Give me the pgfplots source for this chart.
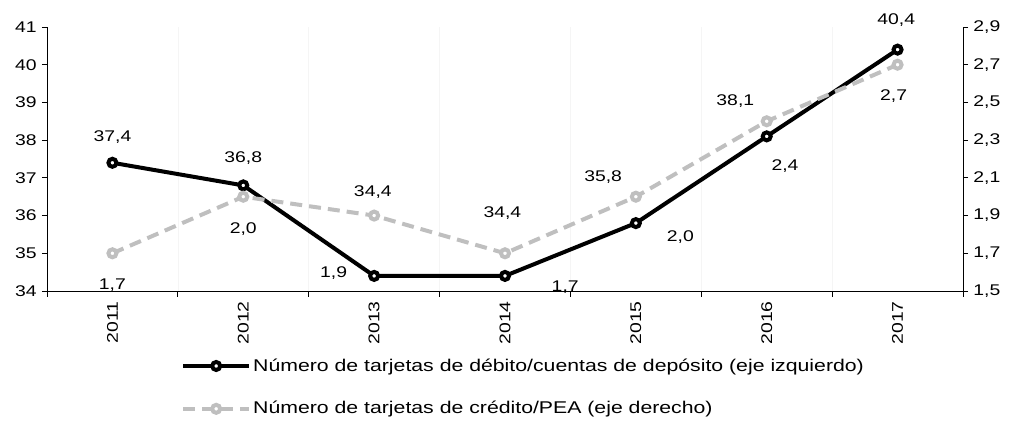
\documentclass[border=0pt]{standalone}
\usepackage{fontspec}
\setmainfont{Liberation Sans}[FakeStretch=1.25]
\usepackage{pgfplots}
\usepackage{pgfplotstable}
\pgfplotsset{compat=1.18}

\definecolor{gris}{RGB}{191,191,191}

% x: 1 = 2011 ... 7 = 2017
\pgfplotstableread{
x deb cred
1 37.4 1.7
2 36.8 2.0
3 34.4 1.9
4 34.4 1.7
5 35.8 2.0
6 38.1 2.4
7 40.4 2.7
}\datos

\pgfplotsset{
  every axis/.append style={
    scale only axis, width=916pt, height=264pt,
    xmin=0.5, xmax=7.5, clip=false,
    /pgf/number format/assume math mode=true,
    /pgf/number format/use comma,
    tick align=outside,
    major tick length=5pt,
    tick style={black, line width=0.8pt},
  },
}

\begin{document}
\fontsize{15.5}{18}\selectfont
\begin{tikzpicture}
\path[use as bounding box] (-47pt,-147pt) rectangle (963pt,291pt);
\begin{axis}[
    axis y line*=left, axis x line*=bottom,
    axis line style={line width=0.8pt},
    ymin=34, ymax=41, ytick={34,35,...,41},
    xtick={1,...,7},
    xticklabels={2011,2012,2013,2014,2015,2016,2017},
    x tick label style={rotate=90, anchor=east},
    major x tick style={draw=none},
    minor xtick={0.5,1.5,...,7.5},
    minor tick length=6pt,
    minor x tick style={black, line width=0.8pt},
    xminorgrids=true,
    minor x grid style={black!4, line width=0.5pt},
]
\addplot[black, line width=4pt, mark=*, mark size=4pt,
    mark options={fill=white, line width=4pt}]
    table[x=x, y=deb] {\datos};
% etiquetas serie izquierda
\node at (1,38.08) {37,4};
\node at (2,37.53) {36,8};
\node at (2.99,36.63) {34,4};
\node at (3.98,36.07) {34,4};
\node at (4.75,37.02) {35,8};
\node at (5.76,39.04) {38,1};
\node at (6.99,41.19) {40,4};
% etiquetas serie derecha
\node at (1,34.16) {1,7};
\node at (2,35.64) {2,0};
\node at (2.69,34.48) {1,9};
\node at (4.46,34.10) {1,7};
\node at (5.34,35.43) {2,0};
\node at (6.14,37.31) {2,4};
\node at (6.97,39.17) {2,7};
\end{axis}
\begin{axis}[
    axis y line*=right, axis x line=none,
    axis line style={line width=0.8pt},
    ymin=1.5, ymax=2.9, ytick={1.5,1.7,...,2.9},
    yticklabel style={/pgf/number format/.cd, fixed, fixed zerofill, precision=1, use comma},
    legend style={at={(0.143,-0.24)}, anchor=north west, draw=none, fill=none,
        row sep=24pt, font=\fontsize{17}{20}\selectfont},
    legend cell align=left,
    legend image code/.code={\draw[mark repeat=2, mark phase=2, #1]
        plot coordinates {(0pt,0pt) (33pt,0pt) (66pt,0pt)};},
]
\addlegendimage{black, line width=4pt, mark=*, mark size=4pt,
    mark options={fill=white, line width=4pt}}
\addlegendentry{Número de tarjetas de débito/cuentas de depósito (eje izquierdo)}
\addplot[gris, line width=4pt, dash pattern=on 12pt off 7pt, mark=*, mark size=4pt,
    mark options={fill=white, line width=4pt, solid}]
    table[x=x, y=cred] {\datos};
\addlegendentry{Número de tarjetas de crédito/PEA (eje derecho)}
\end{axis}
\end{tikzpicture}
\end{document}
